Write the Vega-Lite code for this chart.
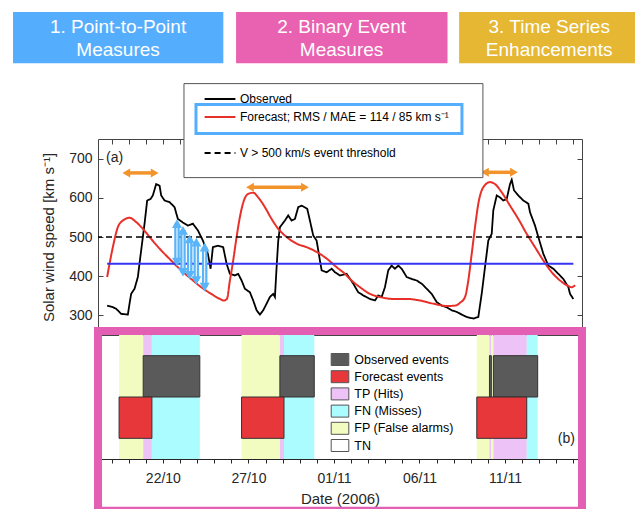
{
  "$schema": "https://vega.github.io/schema/vega-lite/v6.json",
  "padding": {"left": 13, "top": 12, "right": 0, "bottom": 0},
  "bounds": "flush",
  "spacing": 0,
  "config": {"font": "Liberation Sans", "view": {"stroke": null}},
  "resolve": {
    "scale": {"x": "independent", "y": "independent", "fill": "independent", "stroke": "independent", "strokeDash": "independent"},
    "legend": {"fill": "independent", "stroke": "independent", "strokeDash": "independent"}
  },
  "datasets": {
    "header": [
      {"name": "1. Point-to-Point\nMeasures", "x0": 0, "x1": 0.943, "xc": 0.471},
      {"name": "2. Binary Event\nMeasures", "x0": 1, "x1": 1.948, "xc": 1.473},
      {"name": "3. Time Series\nEnhancements", "x0": 2, "x1": 2.8, "xc": 2.404}
    ],
    "obs": [
      {"t": "2006-10-18T17:50", "v": 325, "s": "obs"},
      {"t": "2006-10-19T01:50", "v": 321, "s": "obs"},
      {"t": "2006-10-19T06:27", "v": 317, "s": "obs"},
      {"t": "2006-10-19T13:28", "v": 304, "s": "obs"},
      {"t": "2006-10-19T22:52", "v": 302, "s": "obs"},
      {"t": "2006-10-20T01:16", "v": 330, "s": "obs"},
      {"t": "2006-10-20T03:30", "v": 355, "s": "obs"},
      {"t": "2006-10-20T08:17", "v": 368, "s": "obs"},
      {"t": "2006-10-20T12:55", "v": 398, "s": "obs"},
      {"t": "2006-10-20T17:33", "v": 466, "s": "obs"},
      {"t": "2006-10-20T22:19", "v": 534, "s": "obs"},
      {"t": "2006-10-21T01:58", "v": 593, "s": "obs"},
      {"t": "2006-10-21T06:44", "v": 597, "s": "obs"},
      {"t": "2006-10-21T09:58", "v": 606, "s": "obs"},
      {"t": "2006-10-21T14:36", "v": 635, "s": "obs"},
      {"t": "2006-10-21T19:22", "v": 631, "s": "obs"},
      {"t": "2006-10-21T21:37", "v": 606, "s": "obs"},
      {"t": "2006-10-22T02:23", "v": 593, "s": "obs"},
      {"t": "2006-10-22T09:24", "v": 589, "s": "obs"},
      {"t": "2006-10-22T16:25", "v": 576, "s": "obs"},
      {"t": "2006-10-22T21:03", "v": 546, "s": "obs"},
      {"t": "2006-10-23T04:05", "v": 537, "s": "obs"},
      {"t": "2006-10-23T11:05", "v": 529, "s": "obs"},
      {"t": "2006-10-23T18:06", "v": 534, "s": "obs"},
      {"t": "2006-10-24T01:07", "v": 517, "s": "obs"},
      {"t": "2006-10-24T08:08", "v": 491, "s": "obs"},
      {"t": "2006-10-24T15:10", "v": 457, "s": "obs"},
      {"t": "2006-10-24T18:56", "v": 419, "s": "obs"},
      {"t": "2006-10-24T22:10", "v": 474, "s": "obs"},
      {"t": "2006-10-25T05:11", "v": 478, "s": "obs"},
      {"t": "2006-10-25T12:37", "v": 474, "s": "obs"},
      {"t": "2006-10-25T17:24", "v": 432, "s": "obs"},
      {"t": "2006-10-25T22:02", "v": 406, "s": "obs"},
      {"t": "2006-10-26T05:03", "v": 402, "s": "obs"},
      {"t": "2006-10-26T09:41", "v": 406, "s": "obs"},
      {"t": "2006-10-26T14:27", "v": 389, "s": "obs"},
      {"t": "2006-10-26T19:05", "v": 368, "s": "obs"},
      {"t": "2006-10-27T02:07", "v": 359, "s": "obs"},
      {"t": "2006-10-27T06:44", "v": 338, "s": "obs"},
      {"t": "2006-10-27T11:31", "v": 313, "s": "obs"},
      {"t": "2006-10-27T16:09", "v": 302, "s": "obs"},
      {"t": "2006-10-27T20:46", "v": 313, "s": "obs"},
      {"t": "2006-10-28T01:32", "v": 330, "s": "obs"},
      {"t": "2006-10-28T06:10", "v": 347, "s": "obs"},
      {"t": "2006-10-28T10:48", "v": 355, "s": "obs"},
      {"t": "2006-10-28T13:12", "v": 347, "s": "obs"},
      {"t": "2006-10-28T15:34", "v": 423, "s": "obs"},
      {"t": "2006-10-28T17:50", "v": 490, "s": "obs"},
      {"t": "2006-10-28T20:13", "v": 525, "s": "obs"},
      {"t": "2006-10-29T03:14", "v": 542, "s": "obs"},
      {"t": "2006-10-29T07:51", "v": 555, "s": "obs"},
      {"t": "2006-10-29T12:37", "v": 542, "s": "obs"},
      {"t": "2006-10-29T17:15", "v": 546, "s": "obs"},
      {"t": "2006-10-29T21:53", "v": 576, "s": "obs"},
      {"t": "2006-10-30T02:40", "v": 580, "s": "obs"},
      {"t": "2006-10-30T10:32", "v": 572, "s": "obs"},
      {"t": "2006-10-30T14:18", "v": 542, "s": "obs"},
      {"t": "2006-10-30T18:56", "v": 504, "s": "obs"},
      {"t": "2006-10-30T23:42", "v": 491, "s": "obs"},
      {"t": "2006-10-31T04:20", "v": 440, "s": "obs"},
      {"t": "2006-10-31T06:44", "v": 415, "s": "obs"},
      {"t": "2006-10-31T13:45", "v": 410, "s": "obs"},
      {"t": "2006-10-31T20:46", "v": 419, "s": "obs"},
      {"t": "2006-11-01T01:24", "v": 410, "s": "obs"},
      {"t": "2006-11-01T08:25", "v": 402, "s": "obs"},
      {"t": "2006-11-01T17:50", "v": 406, "s": "obs"},
      {"t": "2006-11-02T03:06", "v": 381, "s": "obs"},
      {"t": "2006-11-02T10:06", "v": 359, "s": "obs"},
      {"t": "2006-11-02T17:07", "v": 351, "s": "obs"},
      {"t": "2006-11-03T02:31", "v": 342, "s": "obs"},
      {"t": "2006-11-03T09:33", "v": 338, "s": "obs"},
      {"t": "2006-11-03T14:11", "v": 351, "s": "obs"},
      {"t": "2006-11-03T18:56", "v": 347, "s": "obs"},
      {"t": "2006-11-03T23:34", "v": 372, "s": "obs"},
      {"t": "2006-11-04T04:12", "v": 415, "s": "obs"},
      {"t": "2006-11-04T08:58", "v": 427, "s": "obs"},
      {"t": "2006-11-04T13:36", "v": 419, "s": "obs"},
      {"t": "2006-11-04T18:14", "v": 427, "s": "obs"},
      {"t": "2006-11-04T23:01", "v": 419, "s": "obs"},
      {"t": "2006-11-05T06:02", "v": 398, "s": "obs"},
      {"t": "2006-11-05T13:03", "v": 393, "s": "obs"},
      {"t": "2006-11-05T20:04", "v": 389, "s": "obs"},
      {"t": "2006-11-06T03:06", "v": 381, "s": "obs"},
      {"t": "2006-11-06T10:06", "v": 368, "s": "obs"},
      {"t": "2006-11-06T17:07", "v": 355, "s": "obs"},
      {"t": "2006-11-07T00:09", "v": 334, "s": "obs"},
      {"t": "2006-11-07T07:09", "v": 325, "s": "obs"},
      {"t": "2006-11-07T14:11", "v": 321, "s": "obs"},
      {"t": "2006-11-07T21:12", "v": 313, "s": "obs"},
      {"t": "2006-11-08T04:12", "v": 309, "s": "obs"},
      {"t": "2006-11-08T13:28", "v": 300, "s": "obs"},
      {"t": "2006-11-08T18:14", "v": 296, "s": "obs"},
      {"t": "2006-11-09T03:30", "v": 292, "s": "obs"},
      {"t": "2006-11-09T10:32", "v": 296, "s": "obs"},
      {"t": "2006-11-09T15:17", "v": 355, "s": "obs"},
      {"t": "2006-11-09T19:55", "v": 423, "s": "obs"},
      {"t": "2006-11-10T00:33", "v": 491, "s": "obs"},
      {"t": "2006-11-10T05:20", "v": 508, "s": "obs"},
      {"t": "2006-11-10T07:35", "v": 568, "s": "obs"},
      {"t": "2006-11-10T12:22", "v": 606, "s": "obs"},
      {"t": "2006-11-10T16:59", "v": 601, "s": "obs"},
      {"t": "2006-11-10T21:37", "v": 593, "s": "obs"},
      {"t": "2006-11-11T02:23", "v": 597, "s": "obs"},
      {"t": "2006-11-11T07:01", "v": 635, "s": "obs"},
      {"t": "2006-11-11T09:24", "v": 646, "s": "obs"},
      {"t": "2006-11-11T12:37", "v": 619, "s": "obs"},
      {"t": "2006-11-11T18:40", "v": 606, "s": "obs"},
      {"t": "2006-11-12T01:41", "v": 593, "s": "obs"},
      {"t": "2006-11-12T08:43", "v": 585, "s": "obs"},
      {"t": "2006-11-12T11:05", "v": 563, "s": "obs"},
      {"t": "2006-11-12T18:06", "v": 529, "s": "obs"},
      {"t": "2006-11-12T22:44", "v": 500, "s": "obs"},
      {"t": "2006-11-13T05:46", "v": 457, "s": "obs"},
      {"t": "2006-11-13T12:46", "v": 427, "s": "obs"},
      {"t": "2006-11-13T19:48", "v": 419, "s": "obs"},
      {"t": "2006-11-14T02:48", "v": 406, "s": "obs"},
      {"t": "2006-11-14T09:49", "v": 393, "s": "obs"},
      {"t": "2006-11-14T16:51", "v": 372, "s": "obs"},
      {"t": "2006-11-14T19:13", "v": 355, "s": "obs"},
      {"t": "2006-11-14T23:51", "v": 342, "s": "obs"}
    ],
    "fc": [
      {"t": "2006-10-18T17:50", "v": 398, "s": "fc"},
      {"t": "2006-10-19T01:50", "v": 474, "s": "fc"},
      {"t": "2006-10-19T08:50", "v": 525, "s": "fc"},
      {"t": "2006-10-19T15:52", "v": 542, "s": "fc"},
      {"t": "2006-10-20T01:16", "v": 549, "s": "fc"},
      {"t": "2006-10-20T10:32", "v": 538, "s": "fc"},
      {"t": "2006-10-20T19:55", "v": 521, "s": "fc"},
      {"t": "2006-10-21T07:35", "v": 495, "s": "fc"},
      {"t": "2006-10-21T21:37", "v": 466, "s": "fc"},
      {"t": "2006-10-22T11:39", "v": 440, "s": "fc"},
      {"t": "2006-10-23T01:41", "v": 415, "s": "fc"},
      {"t": "2006-10-23T15:43", "v": 393, "s": "fc"},
      {"t": "2006-10-24T05:46", "v": 372, "s": "fc"},
      {"t": "2006-10-24T19:48", "v": 355, "s": "fc"},
      {"t": "2006-10-25T08:00", "v": 342, "s": "fc"},
      {"t": "2006-10-25T13:36", "v": 338, "s": "fc"},
      {"t": "2006-10-25T17:50", "v": 342, "s": "fc"},
      {"t": "2006-10-25T22:02", "v": 389, "s": "fc"},
      {"t": "2006-10-26T02:40", "v": 440, "s": "fc"},
      {"t": "2006-10-26T07:26", "v": 500, "s": "fc"},
      {"t": "2006-10-26T12:04", "v": 551, "s": "fc"},
      {"t": "2006-10-26T17:41", "v": 593, "s": "fc"},
      {"t": "2006-10-26T23:42", "v": 610, "s": "fc"},
      {"t": "2006-10-27T06:44", "v": 613, "s": "fc"},
      {"t": "2006-10-27T13:45", "v": 601, "s": "fc"},
      {"t": "2006-10-27T23:09", "v": 576, "s": "fc"},
      {"t": "2006-10-28T08:34", "v": 546, "s": "fc"},
      {"t": "2006-10-28T17:50", "v": 521, "s": "fc"},
      {"t": "2006-10-29T05:37", "v": 500, "s": "fc"},
      {"t": "2006-10-29T19:39", "v": 483, "s": "fc"},
      {"t": "2006-10-30T09:41", "v": 474, "s": "fc"},
      {"t": "2006-10-30T23:42", "v": 462, "s": "fc"},
      {"t": "2006-10-31T13:45", "v": 445, "s": "fc"},
      {"t": "2006-11-01T03:47", "v": 423, "s": "fc"},
      {"t": "2006-11-01T15:26", "v": 406, "s": "fc"},
      {"t": "2006-11-01T22:27", "v": 393, "s": "fc"},
      {"t": "2006-11-02T12:29", "v": 372, "s": "fc"},
      {"t": "2006-11-03T02:31", "v": 355, "s": "fc"},
      {"t": "2006-11-03T16:33", "v": 347, "s": "fc"},
      {"t": "2006-11-04T11:14", "v": 342, "s": "fc"},
      {"t": "2006-11-05T06:02", "v": 342, "s": "fc"},
      {"t": "2006-11-06T00:41", "v": 338, "s": "fc"},
      {"t": "2006-11-06T19:22", "v": 330, "s": "fc"},
      {"t": "2006-11-07T14:11", "v": 324, "s": "fc"},
      {"t": "2006-11-08T01:49", "v": 325, "s": "fc"},
      {"t": "2006-11-08T08:50", "v": 332, "s": "fc"},
      {"t": "2006-11-08T15:52", "v": 347, "s": "fc"},
      {"t": "2006-11-08T20:30", "v": 389, "s": "fc"},
      {"t": "2006-11-09T01:16", "v": 457, "s": "fc"},
      {"t": "2006-11-09T05:54", "v": 525, "s": "fc"},
      {"t": "2006-11-09T10:32", "v": 585, "s": "fc"},
      {"t": "2006-11-09T17:33", "v": 627, "s": "fc"},
      {"t": "2006-11-10T02:57", "v": 640, "s": "fc"},
      {"t": "2006-11-10T09:58", "v": 635, "s": "fc"},
      {"t": "2006-11-10T19:22", "v": 614, "s": "fc"},
      {"t": "2006-11-11T07:01", "v": 580, "s": "fc"},
      {"t": "2006-11-11T18:40", "v": 546, "s": "fc"},
      {"t": "2006-11-12T06:27", "v": 508, "s": "fc"},
      {"t": "2006-11-12T18:06", "v": 474, "s": "fc"},
      {"t": "2006-11-13T05:46", "v": 440, "s": "fc"},
      {"t": "2006-11-13T17:33", "v": 410, "s": "fc"},
      {"t": "2006-11-14T05:11", "v": 389, "s": "fc"},
      {"t": "2006-11-14T14:36", "v": 377, "s": "fc"},
      {"t": "2006-11-14T21:37", "v": 372, "s": "fc"},
      {"t": "2006-11-15T02:15", "v": 377, "s": "fc"}
    ],
    "thr": [{"s": "thr", "v": 500}],
    "mean": [{"t1": "2006-10-18T17:50", "t2": "2006-11-14T23:51", "v": 432}],
    "diffs": [
      {"t": "2006-10-22T19:48", "hi": 534, "lo": 436},
      {"t": "2006-10-23T04:14", "hi": 517, "lo": 410},
      {"t": "2006-10-23T13:37", "hi": 495, "lo": 402},
      {"t": "2006-10-23T22:53", "hi": 487, "lo": 389},
      {"t": "2006-10-24T10:40", "hi": 474, "lo": 372}
    ],
    "spans": [
      {"t1": "2006-10-19T20:42", "t2": "2006-10-21T12:32", "v": 663.5},
      {"t1": "2006-10-27T02:13", "t2": "2006-10-30T07:21", "v": 627},
      {"t1": "2006-11-09T19:50", "t2": "2006-11-11T12:30", "v": 665}
    ],
    "notes_a": [{"t": "2006-10-18T16:13", "v": 702.6, "label": "(a)"}],
    "lbox": [{"t1": "2006-10-23T05:37", "t2": "2006-11-09T17:00", "v1": 651.5, "v2": 891.3}],
    "hbox": [{"t1": "2006-10-23T22:28", "t2": "2006-11-08T11:35", "v1": 763.8, "v2": 837.8}],
    "bg": [
      {"t1": "2006-10-19T10:34", "t2": "2006-10-20T20:24", "cat": "FP (False alarms)"},
      {"t1": "2006-10-20T20:24", "t2": "2006-10-21T08:38", "cat": "TP (Hits)"},
      {"t1": "2006-10-21T08:38", "t2": "2006-10-24T03:50", "cat": "FN (Misses)"},
      {"t1": "2006-10-26T14:24", "t2": "2006-10-28T20:10", "cat": "FP (False alarms)"},
      {"t1": "2006-10-28T20:10", "t2": "2006-10-29T01:55", "cat": "TP (Hits)"},
      {"t1": "2006-10-29T01:55", "t2": "2006-10-30T20:24", "cat": "FN (Misses)"},
      {"t1": "2006-11-09T08:24", "t2": "2006-11-10T02:10", "cat": "FP (False alarms)"},
      {"t1": "2006-11-10T02:10", "t2": "2006-11-10T04:48", "cat": "TP (Hits)"},
      {"t1": "2006-11-10T04:48", "t2": "2006-11-10T07:41", "cat": "FP (False alarms)"},
      {"t1": "2006-11-10T07:41", "t2": "2006-11-12T06:29", "cat": "TP (Hits)"},
      {"t1": "2006-11-12T06:29", "t2": "2006-11-12T21:50", "cat": "FN (Misses)"}
    ],
    "ev": [
      {"t1": "2006-10-20T20:24", "t2": "2006-10-24T03:50", "cat": "Observed events", "lo": 1.5, "hi": 2.5},
      {"t1": "2006-10-28T20:10", "t2": "2006-10-30T20:24", "cat": "Observed events", "lo": 1.5, "hi": 2.5},
      {"t1": "2006-11-10T02:10", "t2": "2006-11-10T04:48", "cat": "Observed events", "lo": 1.5, "hi": 2.5},
      {"t1": "2006-11-10T07:41", "t2": "2006-11-12T21:50", "cat": "Observed events", "lo": 1.5, "hi": 2.5},
      {"t1": "2006-10-19T10:34", "t2": "2006-10-21T08:38", "cat": "Forecast events", "lo": 0.5, "hi": 1.5},
      {"t1": "2006-10-26T14:24", "t2": "2006-10-29T01:55", "cat": "Forecast events", "lo": 0.5, "hi": 1.5},
      {"t1": "2006-11-09T08:24", "t2": "2006-11-12T06:29", "cat": "Forecast events", "lo": 0.5, "hi": 1.5}
    ],
    "notes_b": [{"t": "2006-11-15T02:07", "y": 0.49, "label": "(b)"}],
    "frame": [{"t1": "2006-10-18T05:00", "t2": "2006-11-15T12:00", "y1": -1.25, "y2": 3.095}]
  },
  "vconcat": [
    {
      "width": 484,
      "height": 126.4,
      "data": {"name": "header"},
      "layer": [
        {
          "mark": {"type": "rect"},
          "encoding": {
            "x": {"field": "x0", "type": "quantitative", "scale": {"domain": [0.381, 2.551], "nice": false, "zero": false}, "axis": null},
            "x2": {"field": "x1"},
            "y": {"datum": 0, "type": "quantitative", "scale": {"domain": [-1.464, 1], "nice": false, "zero": false}, "axis": null},
            "y2": {"datum": 1},
            "fill": {"field": "name", "type": "nominal", "scale": {"range": ["#55AEFD", "#E961B1", "#E5B733"]}, "legend": null}
          }
        },
        {
          "mark": {"type": "text", "color": "#FFFFFF", "fontSize": 19, "lineBreak": "\n", "lineHeight": 22.7, "baseline": "middle", "align": "center"},
          "encoding": {
            "x": {"field": "xc", "type": "quantitative"},
            "y": {"datum": 0.702, "type": "quantitative"},
            "text": {"field": "name"}
          }
        }
      ]
    },
    {
      "width": 484,
      "height": 196,
      "view": {"stroke": "#444444", "strokeWidth": 1},
      "resolve": {"axis": {"x": "independent", "y": "independent"}},
      "layer": [
        {
          "data": {"name": "obs"},
          "mark": {"type": "line", "strokeWidth": 1.8},
          "encoding": {
            "x": {"field": "t", "type": "temporal",
              "scale": {"domain": [{"year": 2006, "month": 10, "date": 18, "hours": 5}, {"year": 2006, "month": 11, "date": 15, "hours": 12}]},
              "axis": {"orient": "top", "tickCount": {"interval": "day", "step": 1}, "labels": false, "tickSize": -5, "domain": false, "grid": false, "title": null, "tickColor": "#444444"}},
            "y": {"field": "v", "type": "quantitative", "scale": {"domain": [250, 750], "nice": false, "zero": false},
              "axis": {"orient": "left", "values": [300, 400, 500, 600, 700], "tickSize": -5, "labelPadding": 11, "domain": false, "grid": false, "labelFontSize": 14, "labelColor": "#262626", "tickColor": "#444444", "title": "Solar wind speed [km s⁻¹]", "titleFontSize": 15, "titleFontWeight": "normal", "titleColor": "#262626", "titlePadding": 12}},
            "stroke": {"field": "s", "type": "nominal",
              "scale": {"domain": ["obs", "fc", "gap", "thr"], "range": ["#000000", "#E8302A", "transparent", "#000000"]},
              "legend": {"title": null, "orient": "none", "legendX": 110, "legendY": -52, "symbolType": "M-1.4,0H1.4", "symbolSize": 484, "symbolStrokeWidth": 2, "labelFontSize": 12, "labelOffset": 8, "rowPadding": 0, "padding": 0, "labelLimit": 400, "labelColor": "#000000",
                "labelExpr": "datum.label == 'obs' ? 'Observed' : datum.label == 'fc' ? 'Forecast; RMS / MAE = 114 / 85 km s⁻¹' : datum.label == 'thr' ? 'V > 500 km/s event threshold' : ' '"}},
            "strokeDash": {"field": "s", "type": "nominal",
              "scale": {"domain": ["obs", "fc", "gap", "thr"], "range": [[1, 0], [1, 0], [1, 0], [6, 4]]},
              "legend": {"title": null, "orient": "none", "legendX": 110, "legendY": -52, "symbolType": "M-1.4,0H1.4", "symbolSize": 484, "symbolStrokeWidth": 2, "labelFontSize": 12, "labelOffset": 8, "rowPadding": 0, "padding": 0, "labelLimit": 400, "labelColor": "#000000",
                "labelExpr": "datum.label == 'obs' ? 'Observed' : datum.label == 'fc' ? 'Forecast; RMS / MAE = 114 / 85 km s⁻¹' : datum.label == 'thr' ? 'V > 500 km/s event threshold' : ' '"}}
          }
        },
        {
          "data": {"name": "fc"},
          "mark": {"type": "line", "strokeWidth": 2, "interpolate": "monotone"},
          "encoding": {
            "x": {"field": "t", "type": "temporal", "axis": null},
            "y": {"field": "v", "type": "quantitative", "axis": null},
            "stroke": {"field": "s", "type": "nominal"},
            "strokeDash": {"field": "s", "type": "nominal"}
          }
        },
        {
          "data": {"name": "thr"},
          "mark": {"type": "rule", "strokeWidth": 1.5},
          "encoding": {
            "y": {"field": "v", "type": "quantitative",
              "axis": {"orient": "right", "values": [300, 400, 500, 600, 700], "labels": false, "tickSize": -5, "domain": false, "grid": false, "title": null, "tickColor": "#444444"}},
            "stroke": {"field": "s", "type": "nominal"},
            "strokeDash": {"field": "s", "type": "nominal"}
          }
        },
        {
          "data": {"name": "mean"},
          "mark": {"type": "rule", "color": "#3434F2", "strokeWidth": 2},
          "encoding": {
            "x": {"field": "t1", "type": "temporal", "axis": null},
            "x2": {"field": "t2"},
            "y": {"field": "v", "type": "quantitative", "axis": null}
          }
        },
        {
          "data": {"name": "diffs"},
          "mark": {"type": "rule", "color": "#5AB4F8", "strokeWidth": 5.5},
          "encoding": {
            "x": {"field": "t", "type": "temporal", "axis": null},
            "y": {"field": "hi", "type": "quantitative", "axis": null},
            "y2": {"field": "lo"}
          }
        },
        {
          "data": {"name": "diffs"},
          "mark": {"type": "rule", "color": "#FFFFFF", "strokeWidth": 1},
          "encoding": {
            "x": {"field": "t", "type": "temporal", "axis": null},
            "y": {"field": "hi", "type": "quantitative", "axis": null},
            "y2": {"field": "lo"}
          }
        },
        {
          "data": {"name": "diffs"},
          "mark": {"type": "point", "shape": "triangle-up", "filled": true, "color": "#5AB4F8", "size": 100, "opacity": 1},
          "encoding": {
            "x": {"field": "t", "type": "temporal", "axis": null},
            "y": {"field": "hi", "type": "quantitative", "axis": null}
          }
        },
        {
          "data": {"name": "diffs"},
          "mark": {"type": "point", "shape": "triangle-down", "filled": true, "color": "#5AB4F8", "size": 100, "opacity": 1},
          "encoding": {
            "x": {"field": "t", "type": "temporal", "axis": null},
            "y": {"field": "lo", "type": "quantitative", "axis": null}
          }
        },
        {
          "data": {"name": "spans"},
          "mark": {"type": "rule", "color": "#F2942B", "strokeWidth": 3.5},
          "encoding": {
            "x": {"field": "t1", "type": "temporal", "axis": null},
            "x2": {"field": "t2"},
            "y": {"field": "v", "type": "quantitative", "axis": null}
          }
        },
        {
          "data": {"name": "spans"},
          "mark": {"type": "point", "shape": "triangle-left", "filled": true, "color": "#F2942B", "size": 80, "opacity": 1},
          "encoding": {
            "x": {"field": "t1", "type": "temporal", "axis": null},
            "y": {"field": "v", "type": "quantitative", "axis": null}
          }
        },
        {
          "data": {"name": "spans"},
          "mark": {"type": "point", "shape": "triangle-right", "filled": true, "color": "#F2942B", "size": 80, "opacity": 1},
          "encoding": {
            "x": {"field": "t2", "type": "temporal", "axis": null},
            "y": {"field": "v", "type": "quantitative", "axis": null}
          }
        },
        {
          "data": {"name": "notes_a"},
          "mark": {"type": "text", "align": "left", "baseline": "middle", "fontSize": 14, "color": "#262626"},
          "encoding": {
            "x": {"field": "t", "type": "temporal", "axis": null},
            "y": {"field": "v", "type": "quantitative", "axis": null},
            "text": {"field": "label"}
          }
        },
        {
          "data": {"name": "lbox"},
          "mark": {"type": "rect", "fill": "#FFFFFF", "stroke": "#555555", "strokeWidth": 1},
          "encoding": {
            "x": {"field": "t1", "type": "temporal", "axis": null},
            "x2": {"field": "t2"},
            "y": {"field": "v1", "type": "quantitative", "axis": null},
            "y2": {"field": "v2"}
          }
        },
        {
          "data": {"name": "hbox"},
          "mark": {"type": "rect", "fill": "transparent", "stroke": "#55AEFD", "strokeWidth": 3},
          "encoding": {
            "x": {"field": "t1", "type": "temporal", "axis": null},
            "x2": {"field": "t2"},
            "y": {"field": "v1", "type": "quantitative", "axis": null},
            "y2": {"field": "v2"}
          }
        }
      ]
    },
    {
      "width": 484,
      "height": 124,
      "layer": [
        {
          "data": {"name": "bg"},
          "mark": {"type": "rect"},
          "encoding": {
            "x": {"field": "t1", "type": "temporal",
              "scale": {"domain": [{"year": 2006, "month": 10, "date": 18, "hours": 5}, {"year": 2006, "month": 11, "date": 15, "hours": 12}]},
              "axis": {"orient": "bottom", "tickCount": {"interval": "day", "step": 1},
                "labelExpr": "indexof(['22/10','27/10','01/11','06/11','11/11'], timeFormat(datum.value, '%d/%m')) >= 0 ? timeFormat(datum.value, '%d/%m') : ''",
                "labelOverlap": false, "labelFlush": false, "labelBound": false, "labelFontSize": 14, "labelColor": "#262626", "tickColor": "#262626", "domainColor": "#262626", "tickSize": 4, "labelPadding": 8, "grid": false,
                "title": "Date (2006)", "titleFontSize": 15, "titleFontWeight": "normal", "titleColor": "#262626", "titlePadding": 6}},
            "x2": {"field": "t2"},
            "y": {"datum": 0, "type": "quantitative", "scale": {"domain": [0, 3], "nice": false, "zero": false}, "axis": null},
            "y2": {"datum": 3},
            "fill": {"field": "cat", "type": "nominal",
              "scale": {"domain": ["Observed events", "Forecast events", "TP (Hits)", "FN (Misses)", "FP (False alarms)", "TN"],
                "range": ["#5A5A5A", "#E8373A", "#EDC3F7", "#ABFCFE", "#F3FCC0", "#FFFFFF"]},
              "legend": {"title": null, "orient": "none", "legendX": 233.5, "legendY": 16, "symbolType": "M-1.1,-0.75H1.1V0.75H-1.1Z", "symbolSize": 256, "labelFontSize": 12.5, "labelOffset": 5.8, "rowPadding": 0.2, "padding": 0, "labelLimit": 300, "labelColor": "#000000", "symbolStrokeColor": "#555555", "symbolStrokeWidth": 1,
                "encode": {"symbols": {"update": {"stroke": {"value": "#555555"}, "strokeWidth": {"value": 1}}}}}}
          }
        },
        {
          "data": {"name": "ev"},
          "mark": {"type": "rect", "stroke": "#333333", "strokeWidth": 1},
          "encoding": {
            "x": {"field": "t1", "type": "temporal"},
            "x2": {"field": "t2"},
            "y": {"field": "lo", "type": "quantitative", "axis": null},
            "y2": {"field": "hi"},
            "fill": {"field": "cat", "type": "nominal"}
          }
        },
        {
          "data": {"name": "notes_b"},
          "mark": {"type": "text", "align": "right", "baseline": "middle", "fontSize": 14, "color": "#262626"},
          "encoding": {
            "x": {"field": "t", "type": "temporal"},
            "y": {"field": "y", "type": "quantitative", "axis": null},
            "text": {"field": "label"}
          }
        },
        {
          "data": {"name": "frame"},
          "mark": {"type": "rect", "fill": "transparent", "stroke": "#E25FB3", "strokeWidth": 8},
          "encoding": {
            "x": {"field": "t1", "type": "temporal"},
            "x2": {"field": "t2"},
            "y": {"field": "y1", "type": "quantitative", "axis": null},
            "y2": {"field": "y2"}
          }
        }
      ]
    }
  ]
}
